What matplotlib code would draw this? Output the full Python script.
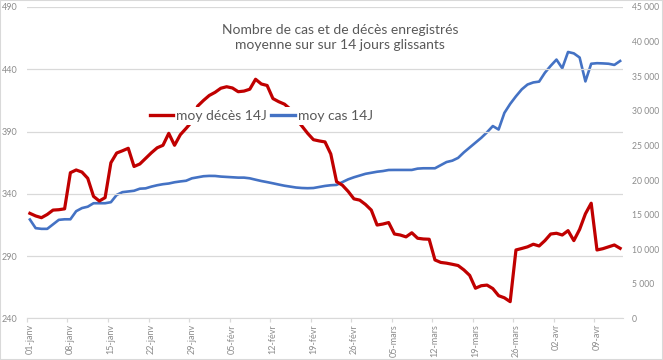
import matplotlib
matplotlib.use("Agg")
import matplotlib.pyplot as plt
from matplotlib.ticker import FuncFormatter, FixedLocator
from matplotlib.lines import Line2D
from matplotlib.patches import Rectangle

plt.rcParams['font.family'] = ['Lato', 'DejaVu Sans']

# Data : one value per day, 01-janv -> 14-avr
deces_14j = [
    324.4, 322.3, 320.9, 323.5, 327.0, 327.3, 328.0, 357.0, 359.2, 357.5,
    352.5, 338.0, 334.3, 337.0, 365.0, 372.8, 374.6, 376.6, 362.0, 364.0,
    368.5, 373.0, 377.0, 379.0, 388.6, 379.0, 387.5, 392.6, 398.0, 410.5,
    415.0, 419.0, 421.5, 424.8, 426.0, 425.0, 422.0, 422.5, 424.0, 432.0,
    428.2, 427.0, 416.5, 414.0, 412.0, 408.0, 400.0, 394.5, 388.6, 383.5,
    382.5, 381.7, 372.0, 349.8, 347.0, 342.0, 336.0, 335.0, 331.5, 327.0,
    315.0, 315.8, 317.0, 307.8, 307.0, 305.5, 308.8, 304.4, 303.8, 303.6,
    287.0, 285.0, 284.4, 283.5, 282.5, 279.0, 274.6, 264.3, 266.3, 266.8,
    264.0, 258.3, 256.6, 253.5, 295.0, 296.2, 297.5, 299.6, 298.2, 302.5,
    307.8, 308.4, 307.0, 310.5, 302.5, 311.5, 324.0, 332.5, 295.0, 296.0,
    297.5, 299.0, 296.3,
]
cas_14j = [
    14300, 13050, 12950, 12950, 13600, 14250, 14330, 14330, 15500, 15950,
    16150, 16650, 16650, 16650, 16800, 17850, 18250, 18350, 18450, 18750,
    18800, 19050, 19250, 19400, 19500, 19680, 19800, 19900, 20250, 20400,
    20550, 20600, 20590, 20500, 20450, 20400, 20350, 20350, 20250, 20050,
    19860, 19700, 19530, 19350, 19180, 19050, 18920, 18850, 18820, 18850,
    19000, 19150, 19250, 19300, 19700, 20100, 20400, 20650, 20900, 21050,
    21200, 21300, 21450, 21460, 21460, 21460, 21460, 21650, 21700, 21700,
    21700, 22150, 22600, 22800, 23200, 24000, 24700, 25400, 26100, 26900,
    27800, 27300, 29700, 31000, 32100, 33100, 33800, 34100, 34220, 35500,
    36500, 37400, 36150, 38500, 38300, 37700, 34250, 36800, 36880, 36850,
    36800, 36630, 37200,
]
date_labels = ["01-janv", "08-janv", "15-janv", "22-janv", "29-janv",
               "05-févr", "12-févr", "19-févr", "26-févr", "05-mars",
               "12-mars", "19-mars", "26-mars", "02-avr", "09-avr"]

red = "#C00000"
blue = "#4472C4"
grey_txt = "#595959"
grey_tick = "#8C8C8C"

days = list(range(len(deces_14j)))

fig = plt.figure(figsize=(6.63, 3.6), dpi=100)
ax1 = fig.add_axes([0.0407, 0.1153, 0.899, 0.8653])
ax2 = ax1.twinx()

# red above blue
ax1.set_zorder(2)
ax1.patch.set_visible(False)

ax1.plot(days, deces_14j, color=red, lw=2.3, solid_joinstyle="round")
ax2.plot(days, cas_14j, color=blue, lw=1.9, solid_joinstyle="round")

ax1.set_xlim(-0.5, len(days) - 0.5)
ax1.set_ylim(240, 490)
ax2.set_ylim(0, 45000)
ax1.set_yticks(range(240, 491, 50))
ax2.set_yticks(range(0, 45001, 5000))
ax2.yaxis.set_major_formatter(FuncFormatter(lambda v, p: f"{v:,.0f}".replace(",", " ")))

ax1.yaxis.grid(True, color="#D9D9D9", lw=0.9)
ax1.set_axisbelow(True)

label_pos = list(range(0, len(days), 7))[:len(date_labels)]
ax1.set_xticks(label_pos)
ax1.set_xticklabels(date_labels, rotation=90)
ax1.tick_params(axis="x", length=0, pad=4, labelsize=6.5, labelcolor=grey_tick)
ax1.xaxis.set_minor_locator(FixedLocator([p - 0.5 for p in label_pos]))
ax1.tick_params(axis="x", which="minor", length=3, color="#D9D9D9", width=0.9)

ax1.tick_params(axis="y", length=0, pad=7, labelsize=6.5, labelcolor=grey_tick)
ax2.tick_params(axis="y", length=0, pad=6.5, labelsize=6.2, labelcolor=grey_tick)

for ax in (ax1, ax2):
    for s in ("top", "left", "right"):
        ax.spines[s].set_visible(False)
ax1.spines["bottom"].set_color("#D9D9D9")
ax2.spines["bottom"].set_visible(False)

fig.text(0.513, 0.895, "Nombre de cas et de décès enregistrés\nmoyenne sur sur 14 jours glissants",
         ha="center", va="center", fontsize=10, color=grey_txt, linespacing=1.3)

handles = [Line2D([], [], color=red, lw=2.4), Line2D([], [], color=blue, lw=2.4)]
leg = ax1.legend(handles, ["moy décès 14J", "moy cas 14J"], loc="center",
                 bbox_to_anchor=(0.393, 0.65), ncol=2, frameon=True, fontsize=10,
                 handlelength=1.7, handletextpad=0.2, columnspacing=0.3,
                 borderpad=0.2, labelcolor=grey_txt)
leg.get_frame().set_facecolor("white")
leg.get_frame().set_edgecolor("none")
leg.get_frame().set_alpha(1)
leg.set_zorder(10)

fig.patches.append(Rectangle((0, 0), 1, 1, transform=fig.transFigure, fill=False,
                             edgecolor="#D9D9D9", lw=1.5))

fig.savefig("out.png", dpi=100)
